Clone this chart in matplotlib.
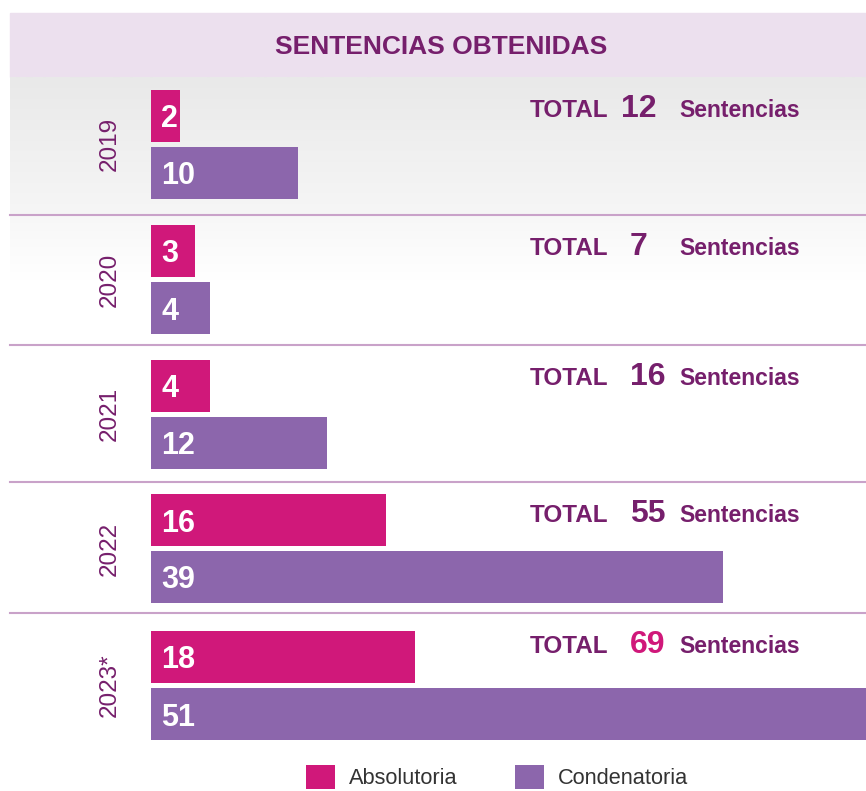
import numpy as np
import matplotlib
matplotlib.use('Agg')
import matplotlib.pyplot as plt
from matplotlib.patches import Rectangle

# datos
anios = ['2019', '2020', '2021', '2022', '2023*']
absolutoria = [2, 3, 4, 16, 18]
condenatoria = [10, 4, 12, 39, 51]
totales = [12, 7, 16, 55, 69]
titulo = 'SENTENCIAS OBTENIDAS'

rosa = '#d0187a'
morado = '#8c66ac'
vino = '#761f6c'
fuente = ['Liberation Sans', 'DejaVu Sans']

W, H = 866, 791
fig = plt.figure(figsize=(W / 100, H / 100), dpi=100)
fig.patch.set_facecolor('white')

# fondo en pixeles
bg = fig.add_axes([0, 0, 1, 1])
bg.axis('off')

filas = [77, 215, 345, 482, 613, 750]  # limites de cada fila
centros = [115.5, 251, 385.5, 520, 657]  # centro de la barra rosa
sep = 57

# cabecera
bg.add_patch(Rectangle((10, 13), W - 10, 64, color='#ece0ee', zorder=0))
bg.text(441, 47, titulo, ha='center', va='center', fontsize=19,
        fontweight='bold', color=vino, family=fuente)

# degradado fila 2019 y 2020
grad = np.linspace(0, 1, 100).reshape(-1, 1)
cm1 = matplotlib.colors.LinearSegmentedColormap.from_list('g1', ['#e9e9e9', '#f6f6f6'])
bg.imshow(grad, cmap=cm1, extent=(10, W, filas[1], filas[0]), aspect='auto', zorder=0)
cm2 = matplotlib.colors.LinearSegmentedColormap.from_list('g2', ['#f7f7f7', '#ffffff'])
bg.imshow(grad, cmap=cm2, extent=(10, W, 280, filas[1]), aspect='auto', zorder=0)
bg.set_xlim(0, W)
bg.set_ylim(H, 0)

for y in filas[1:5]:
    bg.plot([10, W], [y, y], color='#c9a2c9', lw=1.5, zorder=1)

num_x = [621, 630, 630, 630, 630]
for i, anio in enumerate(anios):
    yb = filas[i] + 40
    bg.text(530, yb, 'TOTAL', ha='left', va='baseline', fontsize=17.5,
            fontweight='bold', color=vino, family=fuente)
    bg.text(num_x[i], yb, str(totales[i]), ha='left', va='baseline', fontsize=23,
            fontweight='bold', color=rosa if i == 4 else vino, family=fuente)
    bg.text(679, yb, 'Sentencias', ha='left', va='baseline', fontsize=16.5,
            fontweight='bold', color=vino, family=fuente)
    bg.text(110, centros[i] + sep / 2, anio, ha='center', va='center', rotation=90,
            fontsize=17.5, color=vino, family=fuente)

# barras
ax = fig.add_axes([151 / W, 0, 1 - 151 / W, 1])
ax.patch.set_alpha(0)
ax.set_xlim(0, 48.75)
ax.set_ylim(H, 0)
ax.axis('off')

y_abs = np.array(centros)
y_con = y_abs + sep
b1 = ax.barh(y_abs, absolutoria, height=52, color=rosa, label='Absolutoria')
b2 = ax.barh(y_con, condenatoria, height=52, color=morado, label='Condenatoria')

for ys, vals in [(y_abs, absolutoria), (y_con, condenatoria)]:
    for y, v in zip(ys, vals):
        ax.annotate(str(v), (0, y), xytext=(7.5, 0), textcoords='offset points',
                    ha='left', va='center_baseline', fontsize=22, fontweight='bold',
                    color='white', family=fuente)

leg = fig.legend(handles=[b1, b2], loc='center', ncol=2, frameon=False,
                 bbox_to_anchor=(497 / W, 1 - 777 / H),
                 prop={'family': fuente, 'size': 15.7},
                 handlelength=1.33, handleheight=1.33, handletextpad=0.64,
                 columnspacing=2.66)
for t in leg.get_texts():
    t.set_color('#333333')

fig.savefig('out.png', dpi=100)
